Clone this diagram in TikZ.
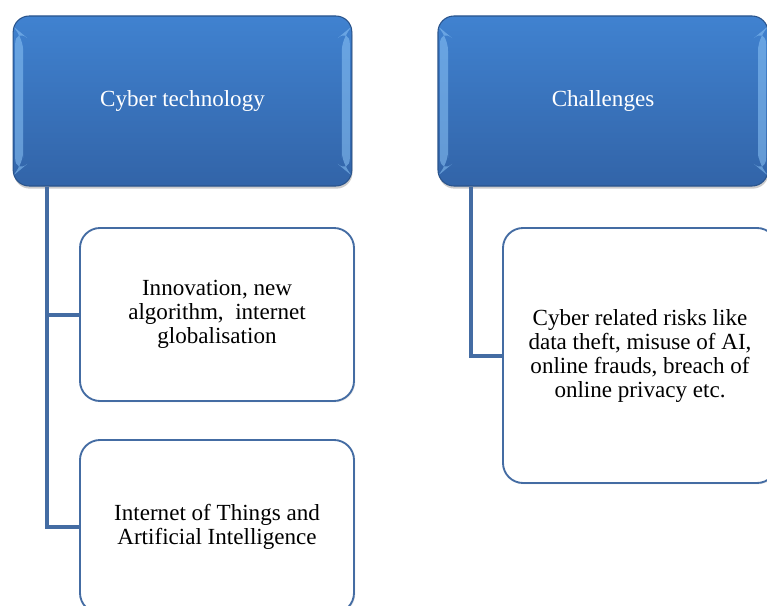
\documentclass[tikz,border=0pt]{standalone}
\usepackage{fontspec}
\setmainfont{Liberation Serif}
\usetikzlibrary{positioning, shadows}

\definecolor{headblue}{RGB}{64,130,208}
\definecolor{headdark}{RGB}{50,100,168}
\definecolor{headlight}{RGB}{140,196,246}
\definecolor{edgeblue}{RGB}{42,84,140}
\definecolor{linkblue}{RGB}{68,108,163}

\tikzset{
  headbox/.style={draw=edgeblue, line width=0.8pt, rounded corners=12pt,
    top color=headblue, bottom color=headdark,
    minimum width=254pt, minimum height=127.5pt,
    text=white, font=\fontsize{17.3}{18}\selectfont,
    drop shadow={shadow xshift=0.5pt, shadow yshift=-2pt, opacity=0.4},
    path picture={
      \fill[headlight, opacity=0.55]
        ([xshift=1.5pt, yshift=-9pt]path picture bounding box.north west)
        -- ++(6pt,-5pt) |- ([xshift=7.5pt, yshift=14pt]path picture bounding box.south west)
        -- ++(-6pt,-5pt) -- cycle;
      \fill[headlight, opacity=0.55]
        ([xshift=-1.5pt, yshift=-9pt]path picture bounding box.north east)
        -- ++(-6pt,-5pt) |- ([xshift=-7.5pt, yshift=14pt]path picture bounding box.south east)
        -- ++(6pt,-5pt) -- cycle;
    }},
  itembox/.style={draw=linkblue, line width=1.4pt, rounded corners=15pt,
    fill=white, minimum width=205.5pt, align=center,
    font=\fontsize{17.3}{18}\selectfont,
    drop shadow={shadow xshift=1pt, shadow yshift=-1pt, opacity=0.15}},
  link/.style={draw=linkblue, line width=3pt}
}

\begin{document}
\begin{tikzpicture}[x=0.75pt, y=-0.75pt]
  \useasboundingbox (0,0) rectangle (767,606);
  \clip (0,0) rectangle (767,606);

  % top level boxes
  \node (cyber) [headbox] at (182.5,101) {Cyber technology};
  \node (challenge) [headbox, minimum width=247.5pt] at (603,101) {Challenges};

  % trunk start points under the top boxes
  \coordinate (trunkL) at ([xshift=25.5pt]cyber.south west);
  \coordinate (trunkR) at ([xshift=25.5pt]challenge.south west);

  % sub items
  \node (innov) [itembox, minimum height=129.75pt] at (217,314.5)
    {Innovation, new\\algorithm,\ \ internet\\globalisation};
  \node (iot) [itembox, minimum height=129.75pt] at (217,526.5)
    {Internet of Things and\\Artificial Intelligence};
  \node (risks) [itembox, minimum height=191.25pt] at (640,355.5)
    {Cyber related risks like\\data theft, misuse of AI,\\online frauds, breach of\\online privacy etc.};

  % connectors
  \draw[link] (trunkL) |- (iot.west);
  \draw[link] (trunkL |- innov.west) -- (innov.west);
  \draw[link] (trunkR) |- (risks.west);
\end{tikzpicture}
\end{document}
